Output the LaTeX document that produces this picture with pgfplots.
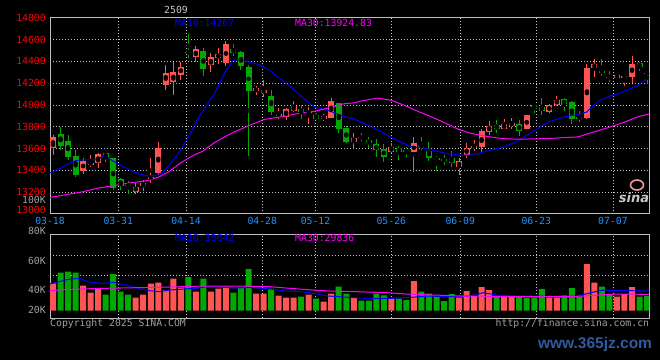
\documentclass[border=0pt]{standalone}
\usepackage{pgfplots}
\pgfplotsset{compat=1.18}
\usepackage{pgfplotstable}
\usepackage{fontspec}
\setsansfont{DejaVu Sans}
\newfontfamily\pixfont{DejaVu Sans Mono}
\newfontfamily\wmfont{Liberation Sans}
\definecolor{upred}{RGB}{255,84,84}
\definecolor{dngreen}{RGB}{0,168,0}
\definecolor{maten}{RGB}{0,0,255}
\definecolor{mathirty}{RGB}{255,0,255}
\definecolor{pricered}{RGB}{255,0,0}
\definecolor{datecol}{RGB}{30,144,255}
\definecolor{labgray}{RGB}{160,160,160}
\definecolor{gridgray}{RGB}{200,200,200}
\definecolor{bordergray}{RGB}{190,190,190}
\definecolor{wmblue}{RGB}{50,90,160}
\definecolor{sinapink}{RGB}{240,150,160}
\newcommand{\pf}{\pixfont\fontsize{9.8}{10}\selectfont}

\pgfplotstableread{
i O H L C
0 13603 13727 13539 13709
4 13397 13509 13367 13482
5 13458 13539 13433 13466
6 13470 13558 13424 13545
11 13203 13279 13179 13248
12 13255 13315 13209 13285
13 13321 13512 13282 13342
14 13376 13658 13352 13606
15 14185 14370 14139 14297
16 14212 14397 14088 14303
17 14279 14397 14230 14352
19 14442 14539 14397 14512
21 14367 14473 14306 14439
22 14427 14527 14376 14467
23 14388 14585 14358 14558
27 14124 14176 14094 14155
28 14109 14230 14073 14139
30 13903 13973 13873 13921
31 13891 13973 13861 13967
32 13942 14039 13933 13988
34 13930 13982 13821 13936
36 13867 13921 13852 13897
37 13882 14064 13882 14033
40 13661 13739 13594 13697
45 13570 13648 13555 13609
48 13564 13703 13388 13648
54 13433 13509 13361 13482
55 13539 13648 13509 13603
56 13615 13676 13573 13621
57 13609 13776 13564 13758
58 13752 13849 13721 13803
60 13776 13867 13776 13821
61 13806 13882 13782 13836
63 13776 13905 13776 13903
66 13933 14006 13927 14003
67 14003 14082 13988 14045
71 13876 14373 13873 14342
72 14342 14418 14252 14376
75 14245 14285 14240 14276
76 14245 14276 14170 14267
77 14252 14448 14200 14376
}\candUp

\pgfplotstableread{
i O H L C
1 13730 13794 13588 13624
2 13667 13727 13494 13524
3 13530 13585 13342 13361
7 13558 13560 13479 13518
8 13512 13515 13215 13236
9 13321 13325 13221 13255
10 13265 13303 13179 13258
18 14485 14650 14430 14478
20 14494 14527 14270 14327
24 14512 14558 14448 14476
25 14482 14497 14321 14358
26 14348 14367 13533 14130
29 14085 14139 13912 13933
33 13958 14000 13867 13936
35 13903 13927 13861 13867
38 14018 14020 13739 13776
39 13785 13806 13648 13655
41 13706 13739 13667 13700
42 13676 13703 13609 13652
43 13639 13691 13524 13588
44 13594 13639 13479 13524
46 13609 13624 13497 13564
47 13582 13618 13518 13576
49 13621 13703 13588 13615
50 13579 13655 13488 13515
51 13506 13527 13397 13500
52 13497 13539 13448 13491
53 13509 13576 13433 13467
59 13812 13858 13745 13776
62 13827 13858 13715 13761
64 13997 14012 13927 13991
65 13985 14064 13903 13942
68 14055 14064 13942 14003
69 14027 14033 13821 13867
70 13885 13942 13843 13879
73 14309 14418 14270 14303
74 14255 14309 14206 14249
78 14388 14391 14315 14345
79 14294 14309 14191 14288
}\candDn

\pgfplotstableread{
i V
0 46400
4 44150
5 37390
6 41570
11 32560
12 35460
13 46080
14 47050
15 39960
16 50910
17 42220
19 38350
21 38350
22 41250
23 43180
27 36420
28 36420
30 34490
31 32560
32 32560
34 35460
36 28690
37 36420
40 32560
45 31910
48 48660
54 32560
55 39000
56 34170
57 42860
58 39960
60 33520
61 33520
66 32560
67 32560
71 65080
72 47050
75 33520
76 36100
77 42860
}\volUp

\pgfplotstableread{
i V
1 56710
2 57670
3 56710
7 35460
8 55420
9 38350
10 35460
18 52520
20 50910
24 37390
25 42540
26 60250
29 41250
33 33520
35 31590
38 43180
39 36420
41 29660
42 29660
43 36420
44 34810
46 31590
47 30300
49 38350
50 36420
51 33520
52 29340
53 36100
59 33520
62 33520
63 32560
64 32880
65 40930
68 34810
69 41900
70 33520
73 43180
74 36100
78 33520
79 34170
}\volDn

\pgfplotstableread{
i V
-0.4 45800
2 50270
3.5 51230
4.8 47690
6.5 46400
8 47370
9.3 45440
11 42220
12.8 39320
14.2 38350
15.5 39960
17.3 40930
19 41570
20.4 43180
22.2 42860
24.4 41900
26.2 42540
28 41570
29.3 40610
31 39000
33 38350
34.7 36740
36.5 34170
39.5 32880
42.2 31590
44.8 31910
47.5 32880
50.1 34170
52.8 33520
55.4 34170
57.2 37390
59 35130
61.7 34170
64.3 34170
67 33520
69.7 34170
71.5 37390
73.2 39960
75 39320
76.8 39320
79.3 39000
}\vmaTen

\pgfplotstableread{
i V
-0.4 39320
2 40610
6.5 41570
11 42220
15.5 42860
19.9 43830
24.4 43830
28.8 43180
33.3 40610
36.8 39000
40.4 38350
44.4 37390
47 36100
50.6 35130
54.6 34170
59 33850
63.5 33520
67.9 33520
70.6 34170
72.4 35130
75 36100
79.3 35780
}\vmaThirty

\begin{document}
\begin{tikzpicture}
\fill[black] (0pt,0pt) rectangle (660pt,360pt);

% ---------- price panel ----------
\begin{scope}[shift={(50pt,146.2pt)}]
\begin{axis}[
  at={(0pt,0pt)}, anchor=south west, scale only axis,
  width=599.3pt, height=196pt,
  xmin=-0.4, xmax=79.3, ymin=13000, ymax=14800,
  axis line style={draw=bordergray, line width=0.9pt},
  xtick={-0.4,8.68,17.69,27.83,34.91,44.99,54.16,64.27,74.47},
  xticklabels={03-18,03-31,04-14,04-28,05-12,05-26,06-09,06-23,07-07},
  ytick={13200,13400,...,14800},
  yticklabels={13200,13400,13600,13800,14000,14200,14400,14600,14800},
  scaled ticks=false,
  major tick length=0pt,
  grid=major,
  major grid style={draw=gridgray, line width=0.8pt, dash pattern=on 1pt off 2pt},
  xticklabel style={font=\pf, text=datecol, inner sep=0pt, yshift=-3.2pt},
  yticklabel style={font=\pf, text=pricered, inner xsep=4pt, inner ysep=0pt},
]
% wicks
\addplot[only marks, mark=none, error bars/.cd, y dir=both, y explicit, error mark=none,
  error bar style={draw=upred, line width=1pt}]
  table[x=i, y expr={(\thisrow{H}+\thisrow{L})/2}, y error expr={(\thisrow{H}-\thisrow{L})/2}] {\candUp};
\addplot[only marks, mark=none, error bars/.cd, y dir=both, y explicit, error mark=none,
  error bar style={draw=dngreen, line width=1pt}]
  table[x=i, y expr={(\thisrow{H}+\thisrow{L})/2}, y error expr={(\thisrow{H}-\thisrow{L})/2}] {\candDn};
% bodies
\addplot[only marks, mark=none, error bars/.cd, y dir=both, y explicit, error mark=none,
  error bar style={draw=upred, line width=6pt}]
  table[x=i, y expr={(\thisrow{O}+\thisrow{C})/2}, y error expr={max(abs(\thisrow{C}-\thisrow{O})/2,5.5)}] {\candUp};
\addplot[only marks, mark=none, error bars/.cd, y dir=both, y explicit, error mark=none,
  error bar style={draw=dngreen, line width=6pt}]
  table[x=i, y expr={(\thisrow{O}+\thisrow{C})/2}, y error expr={max(abs(\thisrow{C}-\thisrow{O})/2,5.5)}] {\candDn};
% MA10
\addplot[draw=maten, line width=1pt, mark=none] coordinates {
(-0.4,13375) (1,13420) (2.7,13481) (3.6,13496) (5.4,13496) (6.7,13528) (7.6,13500)
(8.9,13450) (10.2,13405) (11.6,13362) (12.9,13345) (14.2,13360) (15.1,13420)
(16.4,13526) (17.8,13679) (19.5,13900) (21.5,14109) (22.8,14291) (23.9,14406)
(24.6,14418) (25.9,14397) (27.3,14373) (28.6,14327) (30.4,14230) (32.1,14139)
(33.5,14048) (34.8,13982) (36.1,13958) (37.5,13927) (38.8,13891) (39.9,13873)
(41.4,13830) (43.7,13752) (45,13700) (46.3,13655) (47.6,13618) (49,13609)
(50.8,13579) (52.5,13552) (53.9,13539) (55.6,13539) (57,13564) (58.3,13588)
(59.8,13609) (61.4,13655) (63.6,13745) (65.8,13842) (68,13890) (69.8,13912)
(71,13935) (71.8,13990) (72.7,14040) (74.2,14085) (75.4,14110) (76.5,14140)
(77.7,14175) (79.3,14258)};
% MA30
\addplot[draw=mathirty, line width=1pt, mark=none] coordinates {
(-0.4,13150) (2,13179) (3.8,13200) (6,13236) (8.2,13261) (10.4,13285) (12.6,13306)
(14,13336) (15.3,13382) (17.1,13473) (18.4,13527) (19.9,13575) (21.5,13655)
(23.7,13739) (25.9,13806) (28.1,13867) (30.4,13891) (32.6,13921) (34.8,13942)
(37,13979) (38.8,14012) (39.9,14018) (41.4,14042) (43.2,14062) (45,14042)
(46.8,13994) (48.5,13942) (50.3,13891) (52.1,13836) (53.9,13776) (55.6,13739)
(57.4,13715) (58.7,13700) (59.8,13691) (61.8,13685) (65.8,13691) (68,13700)
(69.8,13706) (71.6,13745) (73.8,13791) (76,13842) (77.8,13891) (79.3,13918)};
\end{axis}
\end{scope}

% ---------- volume panel ----------
\begin{scope}[shift={(50pt,41.7pt)}]
\begin{axis}[
  at={(0pt,0pt)}, anchor=south west, scale only axis,
  width=599.3pt, height=83.6pt,
  xmin=-0.4, xmax=79.3, ymin=-7342, ymax=73416,
  axis line style={draw=bordergray, line width=0.9pt},
  xtick={-0.4,8.68,17.69,27.83,34.91,44.99,54.16,64.27,74.47},
  xticklabels={},
  ytick={34486,53806}, yticklabels={},
  scaled ticks=false,
  major tick length=0pt,
  grid=major,
  major grid style={draw=gridgray, line width=0.8pt, dash pattern=on 1pt off 2pt},
]
\addplot[ybar, bar width=6pt, bar shift=0pt, fill=upred, draw=none]
  table[x=i, y expr={\thisrow{V}-20000}] {\volUp};
\addplot[ybar, bar width=6pt, bar shift=0pt, fill=dngreen, draw=none]
  table[x=i, y expr={\thisrow{V}-20000}] {\volDn};
\addplot[draw=maten, line width=1pt, mark=none]
  table[x=i, y expr={\thisrow{V}-20000}] {\vmaTen};
\addplot[draw=mathirty, line width=1pt, mark=none]
  table[x=i, y expr={\thisrow{V}-20000}] {\vmaThirty};
\end{axis}
\end{scope}

% ---------- texts ----------
\node[font=\pf, text=gridgray] at (176pt,350pt) {2509};
\node[font=\pf, text=maten, anchor=west, inner sep=0pt] at (175pt,336.7pt) {MA10:14267};
\node[font=\pf, text=mathirty, anchor=west, inner sep=0pt] at (295pt,336.7pt) {MA30:13924.83};
\node[font=\pf, text=pricered, anchor=east, inner sep=0pt] at (46pt,149.6pt) {13000};
\node[font=\pf, text=labgray, anchor=east, inner sep=0pt] at (46pt,159.6pt) {100K};
\node[font=\pf, text=maten, anchor=west, inner sep=0pt] at (175pt,122pt) {MA10:35642};
\node[font=\pf, text=mathirty, anchor=west, inner sep=0pt] at (295pt,122pt) {MA30:29836};
\node[font=\pf, text=labgray, anchor=east, inner sep=0pt] at (46pt,129.3pt) {80K};
\node[font=\pf, text=labgray, anchor=east, inner sep=0pt] at (46pt,99.3pt) {60K};
\node[font=\pf, text=labgray, anchor=east, inner sep=0pt] at (46pt,70pt) {40K};
\node[font=\pf, text=labgray, anchor=east, inner sep=0pt] at (46pt,50pt) {20K};
\node[font=\pf, text=labgray, anchor=west, inner sep=0pt] at (50pt,36.3pt) {Copyright 2025 SINA.COM};
\node[font=\pf, text=labgray, anchor=east, inner sep=0pt] at (649.3pt,36.3pt) {http://finance.sina.com.cn};
\node[font=\wmfont\bfseries\fontsize{15.5}{16}\selectfont, text=wmblue, inner sep=0pt] at (595pt,16pt) {www.365jz.com};
\draw[sinapink, line width=1.6pt] (637pt,175pt) ellipse (6.5pt and 5pt);
\node[font=\sffamily\bfseries\itshape\fontsize{13}{13}\selectfont, text=gridgray, inner sep=0pt] at (634pt,162pt) {sina};

\pgfresetboundingbox
\path[use as bounding box] (0pt,0pt) rectangle (660pt,360pt);
\end{tikzpicture}
\end{document}
